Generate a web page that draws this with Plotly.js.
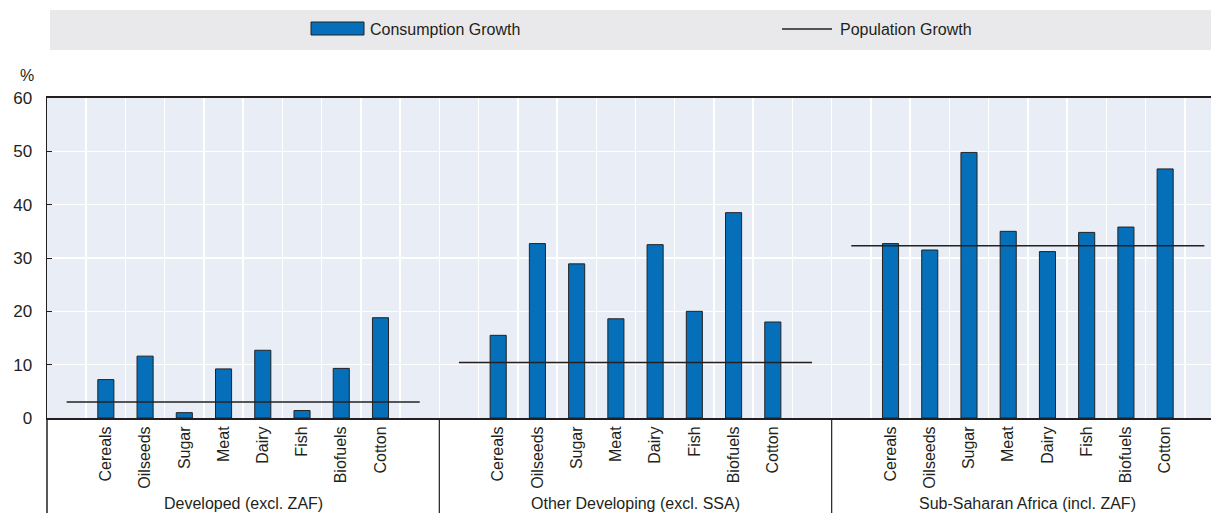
<!DOCTYPE html>
<html>
<head>
<meta charset="utf-8">
<script src="https://cdn.plot.ly/plotly-3.0.1.min.js"></script>
<style>
html,body{margin:0;padding:0;overflow:hidden;background:#fff;width:1211px;height:513px;}
#chart{width:1224px;height:513px;}
</style>
</head>
<body>
<div id="chart"></div>
<script>
// ---- data ----
const commodities = ["Cereals","Oilseeds","Sugar","Meat","Dairy","Fish","Biofuels","Cotton"];
const regions = ["Developed (excl. ZAF)","Other Developing (excl. SSA)","Sub-Saharan Africa (incl. ZAF)"];
const consDeveloped = [7.2, 11.6, 1.0, 9.2, 12.7, 1.4, 9.3, 18.8];
const consOtherDev  = [15.5, 32.7, 28.9, 18.6, 32.5, 20.0, 38.5, 18.0];
const consSSA       = [32.7, 31.5, 49.8, 35.0, 31.2, 34.8, 35.8, 46.7];
const popGrowth     = [3.0, 10.4, 32.3];
const yTicks = [0, 10, 20, 30, 40, 50, 60];

// ---- layout helpers ----
const consAll = [consDeveloped, consOtherDev, consSSA];
const slotsPerGroup = commodities.length + 2;
const nSlots = slotsPerGroup * regions.length;

const barX = [], barY = [], tickVals = [], tickText = [];
const lineX = [], lineY = [];
regions.forEach((r, g) => {
  const base = g * slotsPerGroup;
  commodities.forEach((c, i) => {
    barX.push(base + 1 + i);
    barY.push(consAll[g][i]);
    tickVals.push(base + 1 + i);
    tickText.push(c);
  });
  lineX.push(base, base + slotsPerGroup - 1, null);
  lineY.push(popGrowth[g], popGrowth[g], null);
});
const minorVals = [];
for (let k = 1; k < nSlots; k++) minorVals.push(k - 0.5);

const FONT = "'Liberation Sans', Arial, sans-serif";
const TXT = "#231f20";

const traces = [
  {
    type: "bar", name: "Consumption Growth",
    x: barX, y: barY, width: 0.41,
    marker: {color: "#0570b9", line: {color: "#222222", width: 1}},
    showlegend: false, hoverinfo: "y"
  },
  {
    type: "scatter", mode: "lines", name: "Population Growth",
    x: lineX, y: lineY,
    line: {color: "#222222", width: 1.6},
    showlegend: false, hoverinfo: "y"
  }
];

const plotW = 1224 - 47;
const pxX = px => (px - 47) / plotW;
const pxY = py => (418 - py) / 320;

const shapes = [
  // legend box
  {type: "rect", xref: "paper", yref: "paper", x0: pxX(50), x1: 1, y0: pxY(50), y1: pxY(10),
   fillcolor: "#e9e9eb", line: {width: 0}, layer: "below"},
  // legend bar swatch
  {type: "rect", xref: "paper", yref: "paper", x0: pxX(311), x1: pxX(364), y0: pxY(35), y1: pxY(22),
   fillcolor: "#0570b9", line: {color: "#222222", width: 1}},
  // legend line swatch
  {type: "line", xref: "paper", yref: "paper", x0: pxX(782), x1: pxX(832), y0: pxY(29), y1: pxY(29),
   line: {color: "#222222", width: 1.6}},
  // left axis extension
  {type: "line", xref: "paper", yref: "paper", x0: 0, x1: 0, y0: 0, y1: -0.35,
   line: {color: "#231f20", width: 1.5}}
];
for (let g = 1; g < regions.length; g++) {
  const xv = (g * slotsPerGroup) / nSlots;
  shapes.push({type: "line", xref: "paper", yref: "paper", x0: xv, x1: xv, y0: 0, y1: -0.35,
    line: {color: "#231f20", width: 1.2}});
}

const annotations = [
  {xref: "paper", yref: "paper", x: pxX(368), y: pxY(29), xanchor: "left", yanchor: "middle",
   text: "Consumption Growth", showarrow: false, font: {family: FONT, size: 16, color: TXT}},
  {xref: "paper", yref: "paper", x: pxX(838), y: pxY(29), xanchor: "left", yanchor: "middle",
   text: "Population Growth", showarrow: false, font: {family: FONT, size: 16, color: TXT}},
  {xref: "paper", yref: "paper", x: pxX(27), y: pxY(75), xanchor: "center", yanchor: "middle",
   text: "%", showarrow: false, font: {family: FONT, size: 16, color: TXT}}
];
regions.forEach((r, g) => {
  annotations.push({xref: "x", yref: "paper", x: g * slotsPerGroup + (slotsPerGroup - 1) / 2,
    y: pxY(503), xanchor: "center", yanchor: "middle", text: r, showarrow: false,
    font: {family: FONT, size: 16, color: TXT}});
});

const layout = {
  width: 1224, height: 513,
  margin: {l: 47, r: 0, t: 98, b: 95},
  paper_bgcolor: "#ffffff",
  plot_bgcolor: "#e9edf6",
  font: {family: FONT, size: 16, color: TXT},
  showlegend: false,
  bargap: 0,
  xaxis: {
    range: [-0.5, nSlots - 0.5],
    tickmode: "array", tickvals: tickVals, ticktext: tickText,
    tickangle: -90, ticks: "", showgrid: false, zeroline: false,
    showline: true, linecolor: "#231f20", linewidth: 2, mirror: true,
    tickfont: {family: FONT, size: 16, color: TXT},
    minor: {tickmode: "array", tickvals: minorVals, showgrid: true, gridcolor: "#ffffff", gridwidth: 1.5, ticks: ""},
    fixedrange: true
  },
  yaxis: {
    range: [0, 60], tickmode: "array", tickvals: yTicks,
    ticks: "inside", ticklen: 5, tickcolor: "#231f20", tickwidth: 1,
    showgrid: true, gridcolor: "#ffffff", gridwidth: 1.5,
    zeroline: false, showline: true, linecolor: "#231f20", linewidth: 1.5,
    ticklabelstandoff: 10,
    tickfont: {family: FONT, size: 17, color: TXT},
    fixedrange: true
  },
  shapes: shapes,
  annotations: annotations
};

Plotly.newPlot("chart", traces, layout, {displayModeBar: false, staticPlot: true});
</script>
</body>
</html>
